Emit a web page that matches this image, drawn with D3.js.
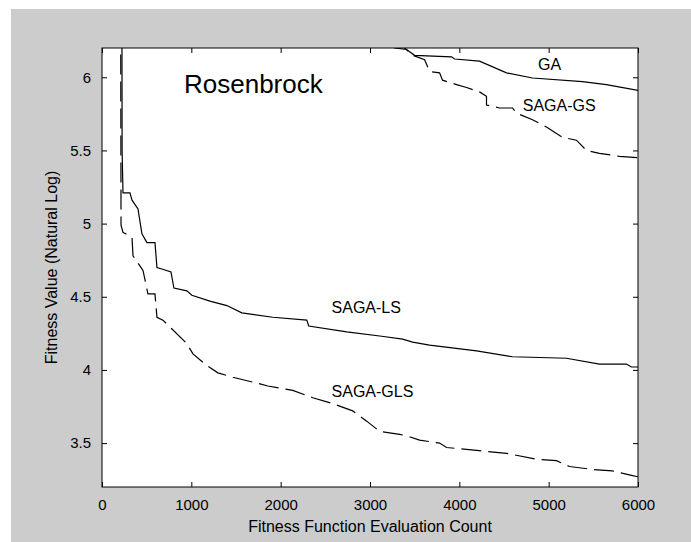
<!DOCTYPE html>
<html>
<head>
<meta charset="utf-8">
<script src="https://cdn.jsdelivr.net/npm/d3@7"></script>
<style>
    body { margin: 0; background: #ffffff; }
    text { font-family: Arial, "Liberation Sans", sans-serif; fill: #000; }
</style>
</head>
<body>
<div id="graphic"></div>
<script>
// tick values for both axes
var xTicks = [0, 1000, 2000, 3000, 4000, 5000, 6000];
var yTicks = [3.5, 4, 4.5, 5, 5.5, 6];

// [evaluation count, ln(fitness)]
var gaPoints = [[3150, 6.26], [3274, 6.2], [3409, 6.19], [3499, 6.15], [3913, 6.14], [3947, 6.125],
    [4226, 6.11], [4528, 6.03], [4819, 5.995], [5378, 5.97], [5646, 5.95], [6000, 5.91]];

var sagaGsPoints = [[3250, 6.26], [3389, 6.2], [3477, 6.15], [3611, 6.12], [3667, 6.04], [3779, 6.03],
    [3812, 5.98], [3969, 5.95], [4081, 5.93], [4226, 5.90], [4304, 5.87], [4304, 5.81], [4450, 5.79],
    [4595, 5.79], [4640, 5.755], [4819, 5.71], [4975, 5.66], [5154, 5.59], [5311, 5.57], [5423, 5.50],
    [5568, 5.48], [5791, 5.46], [6000, 5.45]];

var sagaLsPoints = [[220, 8.0], [225, 5.50], [235, 5.21], [313, 5.21], [336, 5.16], [403, 5.10],
    [447, 4.93], [503, 4.87], [593, 4.87], [615, 4.70], [671, 4.69], [772, 4.67], [805, 4.56],
    [950, 4.54], [1006, 4.51], [1208, 4.47], [1398, 4.44], [1565, 4.39], [1912, 4.36], [2292, 4.34],
    [2314, 4.30], [2739, 4.26], [3131, 4.23], [3365, 4.21], [3477, 4.19], [3667, 4.17], [4193, 4.13],
    [4595, 4.09], [5199, 4.08], [5568, 4.04], [5870, 4.04], [5926, 4.02], [6000, 4.02]];

var sagaGlsPoints = [[205, 8.0], [213, 4.99], [235, 4.94], [336, 4.905], [347, 4.78], [459, 4.68],
    [514, 4.52], [593, 4.52], [615, 4.36], [682, 4.34], [783, 4.28], [950, 4.18], [1018, 4.11],
    [1174, 4.03], [1297, 3.98], [1465, 3.95], [1733, 3.91], [1856, 3.89], [2136, 3.86], [2359, 3.81],
    [2583, 3.77], [2806, 3.72], [2963, 3.65], [3108, 3.58], [3332, 3.56], [3410, 3.55], [3555, 3.52],
    [3779, 3.50], [3857, 3.47], [4193, 3.45], [4528, 3.43], [4863, 3.39], [5087, 3.38], [5232, 3.34],
    [5489, 3.32], [5713, 3.31], [5926, 3.28], [6000, 3.27]];

var svgWidth = 691;
var svgHeight = 542;
var margin = { top: 48, right: 53, bottom: 55, left: 102 };
var width = svgWidth - margin.left - margin.right;
var height = svgHeight - margin.top - margin.bottom;

var svg = d3.select("#graphic")
    .append("svg")
    .attr("width", svgWidth)
    .attr("height", svgHeight);

// grey figure background
svg.append("rect")
    .attr("x", 11)
    .attr("y", 9)
    .attr("width", svgWidth - 11)
    .attr("height", svgHeight - 9)
    .attr("fill", "#cccccc");

var chart = svg.append("g")
    .attr("transform", "translate(" + margin.left + "," + margin.top + ")");

chart.append("rect")
    .attr("width", width)
    .attr("height", height)
    .attr("fill", "#ffffff");

var x = d3.scaleLinear().domain([0, 6000]).range([0, width]);
var y = d3.scaleLinear().domain([3.2, 6.2]).range([height, 0]);

chart.append("clipPath")
    .attr("id", "plotClip")
    .append("rect")
    .attr("width", width)
    .attr("height", height);

var line = d3.line()
    .x(function(d) { return x(d[0]); })
    .y(function(d) { return y(d[1]); });

// the four runs
var series = [
    { pts: gaPoints, dash: null },
    { pts: sagaGsPoints, dash: "20,7" },
    { pts: sagaLsPoints, dash: null },
    { pts: sagaGlsPoints, dash: "20,7" }
];

chart.append("g")
    .attr("clip-path", "url(#plotClip)")
    .selectAll("path")
    .data(series)
    .enter()
    .append("path")
    .attr("d", function(d) { return line(d.pts); })
    .attr("fill", "none")
    .attr("stroke", "#000")
    .attr("stroke-width", 1.2)
    .attr("stroke-dasharray", function(d) { return d.dash; });

// axes, ticks pointing inward, on all four sides like matlab
var fmt = function(d) { return String(d); };

chart.append("g")
    .attr("transform", "translate(0," + height + ")")
    .call(d3.axisBottom(x).tickValues(xTicks).tickSizeInner(-5).tickSizeOuter(0).tickPadding(12).tickFormat(fmt));

chart.append("g")
    .call(d3.axisTop(x).tickValues(xTicks).tickSizeInner(-5).tickSizeOuter(0).tickFormat(""));

chart.append("g")
    .call(d3.axisLeft(y).tickValues(yTicks).tickSizeInner(-5).tickSizeOuter(0).tickPadding(11).tickFormat(fmt));

chart.append("g")
    .attr("transform", "translate(" + width + ",0)")
    .call(d3.axisRight(y).tickValues(yTicks).tickSizeInner(-5).tickSizeOuter(0).tickFormat(""));

chart.selectAll(".domain").remove();
chart.selectAll(".tick line").attr("stroke", "#000");
chart.selectAll(".tick text")
    .style("font-size", "15px")
    .style("font-family", "Arial, 'Liberation Sans', sans-serif")
    .attr("fill", "#000");

// box
chart.append("rect")
    .attr("width", width)
    .attr("height", height)
    .attr("fill", "none")
    .attr("stroke", "#000")
    .attr("stroke-width", 1);

// axis titles
svg.append("text")
    .attr("x", margin.left + width / 2)
    .attr("y", 532)
    .attr("text-anchor", "middle")
    .style("font-size", "16px")
    .text("Fitness Function Evaluation Count");

svg.append("text")
    .attr("transform", "translate(57," + (margin.top + height / 2) + ") rotate(-90)")
    .attr("text-anchor", "middle")
    .style("font-size", "16px")
    .text("Fitness Value (Natural Log)");

// chart title inside the axes
chart.append("text")
    .attr("x", 82)
    .attr("y", 45)
    .style("font-size", "26px")
    .text("Rosenbrock");

// curve labels
var labels = [
    { name: "GA", xv: 4880, yv: 6.05 },
    { name: "SAGA-GS", xv: 4710, yv: 5.77 },
    { name: "SAGA-LS", xv: 2570, yv: 4.39 },
    { name: "SAGA-GLS", xv: 2570, yv: 3.815 }
];

chart.selectAll(".curveLabel")
    .data(labels)
    .enter()
    .append("text")
    .attr("class", "curveLabel")
    .attr("x", function(d) { return x(d.xv); })
    .attr("y", function(d) { return y(d.yv); })
    .style("font-size", "16px")
    .text(function(d) { return d.name; });
</script>
</body>
</html>
